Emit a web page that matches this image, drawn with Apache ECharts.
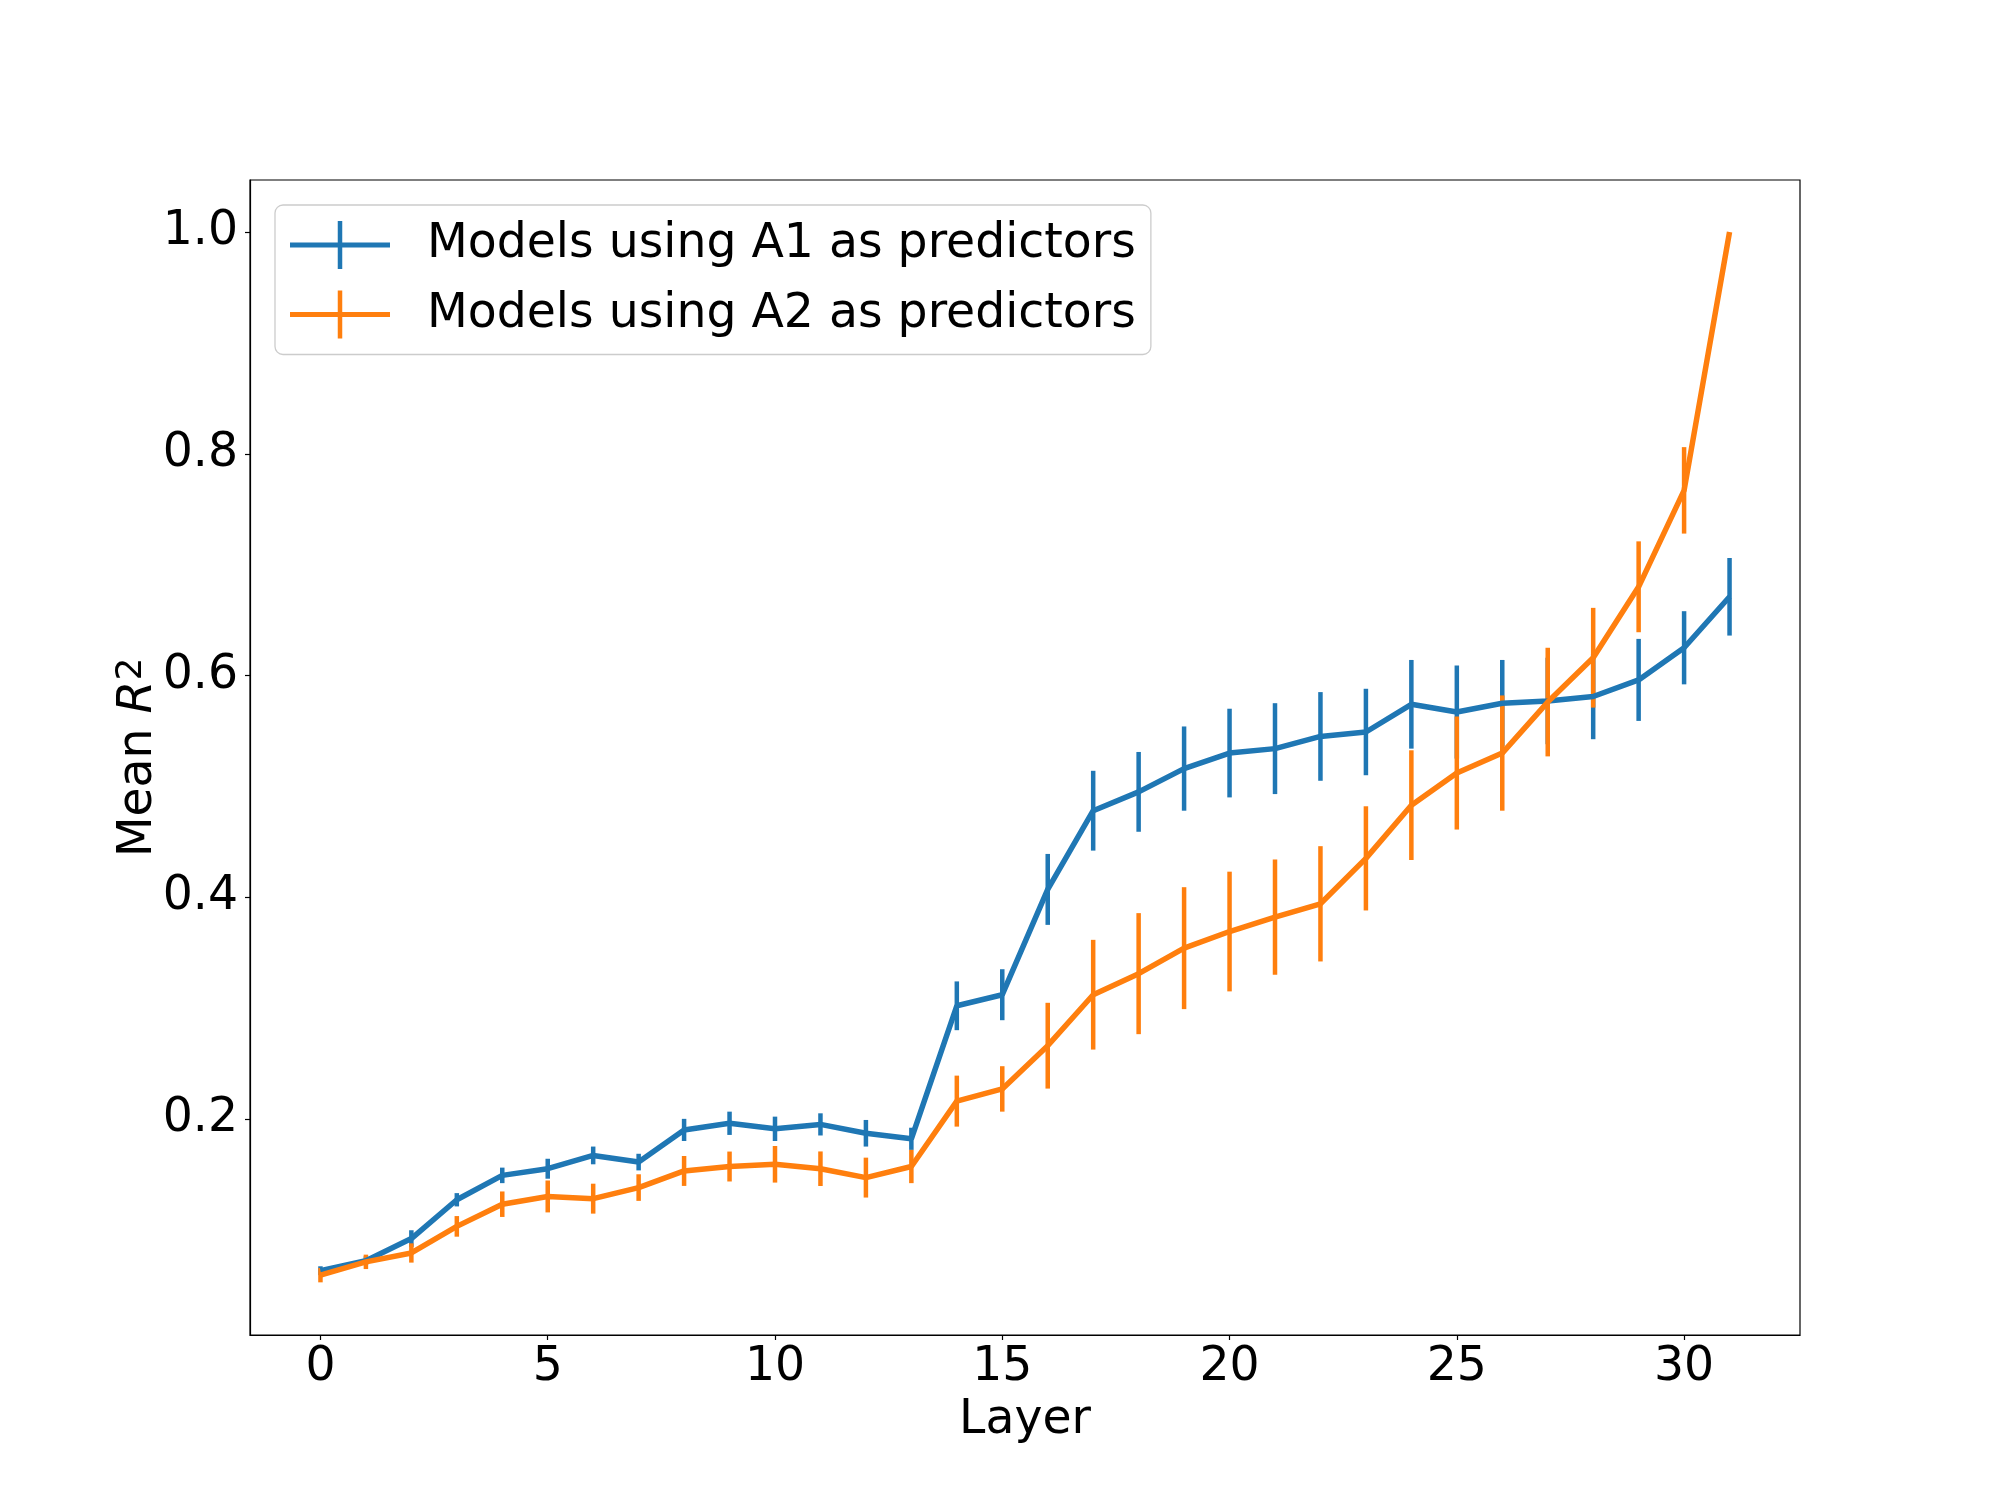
<!DOCTYPE html>
<html lang="en">
  <head>
    <meta charset="UTF-8" />
    <title>Mean R2 by layer</title>
    <script src="https://cdn.jsdelivr.net/npm/echarts@6.0.0/dist/echarts.min.js"></script>
    <style>
      html, body { margin: 0; padding: 0; background: #fff; }
    </style>
  </head>
  <body>
    <div id="main" style="width: 2000px; height: 1500px"></div>
  </body>
  <script type="text/javascript">
    // values
    const layers = [0, 1, 2, 3, 4, 5, 6, 7, 8, 9, 10, 11, 12, 13, 14, 15,
      16, 17, 18, 19, 20, 21, 22, 23, 24, 25, 26, 27, 28, 29, 30, 31];
    const a1Mean = [0.063, 0.072, 0.092, 0.127, 0.149, 0.155, 0.167, 0.161, 0.190, 0.196, 0.191,
      0.195, 0.187, 0.182, 0.302, 0.312, 0.407, 0.478, 0.495, 0.516, 0.530, 0.534, 0.545,
      0.549, 0.574, 0.567, 0.575, 0.577, 0.581, 0.596, 0.625, 0.671];
    const a1Err = [0.004, 0.004, 0.0075, 0.006, 0.007, 0.009, 0.008, 0.0075, 0.010, 0.0105, 0.011,
      0.010, 0.012, 0.010, 0.022, 0.023, 0.032, 0.036, 0.036, 0.038, 0.040, 0.041, 0.040,
      0.039, 0.040, 0.042, 0.039, 0.039, 0.0385, 0.037, 0.033, 0.035];
    const a2Mean = [0.059, 0.071, 0.079, 0.103, 0.123, 0.130, 0.128, 0.138, 0.153, 0.157, 0.159,
      0.155, 0.147, 0.157, 0.216, 0.227, 0.266, 0.312, 0.331, 0.354, 0.369, 0.382, 0.394,
      0.435, 0.483, 0.512, 0.530, 0.576, 0.616, 0.680, 0.767, 1.0];
    const a2Err = [0.0065, 0.0065, 0.0087, 0.0093, 0.0115, 0.0144, 0.0135, 0.012, 0.0135, 0.0135, 0.0165,
      0.0156, 0.018, 0.015, 0.023, 0.0205, 0.0387, 0.0495, 0.0546, 0.055, 0.054, 0.052, 0.052,
      0.047, 0.0495, 0.051, 0.052, 0.049, 0.045, 0.041, 0.039, 0];
    const xTicks = [0, 5, 10, 15, 20, 25, 30];
    const yTicks = [0.2, 0.4, 0.6, 0.8, 1.0];
    const names = ["Models using A1 as predictors", "Models using A2 as predictors"];

    const blue = "#1f77b4";
    const orange = "#ff7f0e";
    const font = "DejaVu Sans";
    const fs = 47.3;
    // legend handle: line with a vertical error bar through it
    const crossIcon = "path://M0,21.5H100V26.5H0Z M47.75,0H52.25V48H47.75Z";

    function lineSeries(name, means, color) {
      return {
        name: name,
        type: "line",
        data: layers.map((l, i) => [l, means[i]]),
        symbol: "none",
        lineStyle: { color: color, width: 5.5 },
        itemStyle: { color: color },
        emphasis: { disabled: true },
      };
    }

    function errorBars(name, means, errs, color) {
      return {
        name: name + " err",
        type: "custom",
        data: layers.map((l, i) => [l, means[i], errs[i]]),
        encode: { x: 0, y: 1 },
        renderItem: function (params, api) {
          let x = api.value(0), y = api.value(1), e = api.value(2);
          let top = api.coord([x, y + e]);
          let bot = api.coord([x, y - e]);
          return {
            type: "line",
            shape: { x1: top[0], y1: top[1], x2: bot[0], y2: bot[1] },
            style: { stroke: color, lineWidth: 4.5 },
          };
        },
      };
    }

    var chartDom = document.getElementById("main");
    var myChart = echarts.init(chartDom);
    var option;

    option = {
      animation: false,
      backgroundColor: "#fff",
      grid: {
        left: 250,
        right: 200,
        top: 180,
        bottom: 165,
        show: true,
        borderColor: "#000",
        borderWidth: 1.2,
        backgroundColor: "transparent",
      },
      legend: {
        orient: "vertical",
        left: 275,
        top: 205,
        padding: [16, 15, 16, 15],
        itemWidth: 100,
        itemHeight: 48,
        itemGap: 21.5,
        backgroundColor: "rgba(255,255,255,0.8)",
        borderColor: "#cccccc",
        borderWidth: 1.3,
        borderRadius: 8,
        itemStyle: { borderWidth: 0 },
        textStyle: {
          fontFamily: font,
          fontSize: fs,
          color: "#000",
          padding: [0, 0, 0, 32],
        },
        data: [
          { name: names[0], icon: crossIcon },
          { name: names[1], icon: crossIcon },
        ],
      },
      xAxis: {
        type: "value",
        min: -1.55,
        max: 32.55,
        name: "Layer",
        nameLocation: "middle",
        nameGap: 62,
        nameMoveOverlap: false,
        nameTextStyle: { fontFamily: font, fontSize: fs, color: "#000" },
        splitLine: { show: false },
        axisLine: { show: true, onZero: false, lineStyle: { color: "#000", width: 1.2 } },
        axisTick: { show: true, length: 5, lineStyle: { color: "#000", width: 1.2 }, customValues: xTicks },
        axisLabel: { fontFamily: font, fontSize: fs, color: "#000", margin: 9, customValues: xTicks },
      },
      yAxis: {
        type: "value",
        min: 0.005,
        max: 1.047,
        name: "{n|Mean }{i|R}{s|2}",
        nameLocation: "middle",
        nameRotate: 90,
        nameGap: 88,
        nameMoveOverlap: false,
        nameTextStyle: {
          fontFamily: font,
          fontSize: fs,
          color: "#000",
          lineHeight: 58,
          rich: {
            n: { fontFamily: font, fontSize: fs, lineHeight: 48, verticalAlign: "bottom", color: "#000" },
            i: { fontFamily: font, fontSize: fs, lineHeight: 48, fontStyle: "italic", verticalAlign: "bottom", color: "#000" },
            s: { fontFamily: font, fontSize: 36, lineHeight: 36, verticalAlign: "top", color: "#000" },
          },
        },
        splitLine: { show: false },
        axisLine: { show: true, onZero: false, lineStyle: { color: "#000", width: 1.2 } },
        axisTick: { show: true, length: 5, lineStyle: { color: "#000", width: 1.2 }, customValues: yTicks },
        axisLabel: {
          fontFamily: font,
          fontSize: fs,
          color: "#000",
          margin: 12,
          customValues: yTicks,
          formatter: (v) => v.toFixed(1),
        },
      },
      series: [
        lineSeries(names[0], a1Mean, blue),
        errorBars(names[0], a1Mean, a1Err, blue),
        lineSeries(names[1], a2Mean, orange),
        errorBars(names[1], a2Mean, a2Err, orange),
      ],
    };

    option && myChart.setOption(option);
  </script>
</html>
